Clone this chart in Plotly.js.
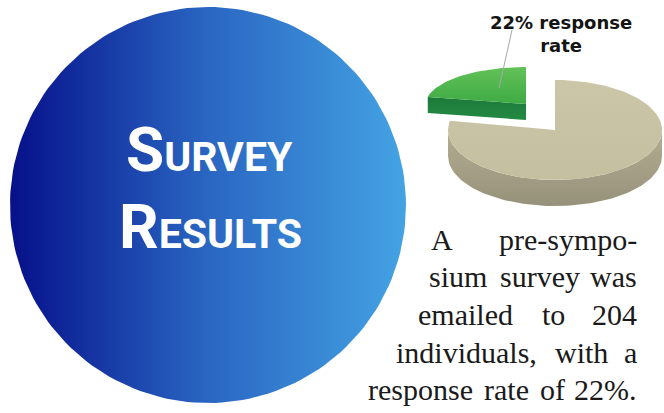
<!DOCTYPE html>
<html>
<head>
<meta charset="utf-8">
<script src="https://cdn.plot.ly/plotly-3.0.1.min.js"></script>
<style>
  html, body { margin: 0; padding: 0; background: #ffffff; }
  #chart { width: 664px; height: 413px; }
</style>
</head>
<body>
<div id="chart"></div>
<script>
// Survey figures
const sliceLabels = ['Responded', 'No response'];
const sliceValues = [22, 78];
const surveyed = 204;
const responseRate = sliceValues[0];

// Heading, written as small caps: first letter large, rest small
const headingWords = ['Survey', 'Results'];

// Body paragraph, one array of words per justified line
const bodyLines = [
  ['A', 'pre-sympo-'],
  ['sium', 'survey', 'was'],
  ['emailed', 'to', String(surveyed)],
  ['individuals,', 'with', 'a'],
  ['response', 'rate', 'of', responseRate + '%.']
];

// ---- page geometry (pixels, y grows downward) ----
const W = 664, H = 413;
const disc = { cx: 208, cy: 205, r: 198 };
const pieBody = { cx: 555, cy: 130, rx: 107, ry: 50, depth: 26 };
const pieWedge = { cx: 526, cy: 104, rx: 100, ry: 37, depth: 16 };
const bodyLeft = [430, 428, 417, 395, 367];
const bodyRight = 638;
const bodyBaseline = [250, 287, 325, 363, 400];
const bodyFont = 'Liberation Serif';
const bodySize = 30;

function rim(g, deg, drop) {
  const a = deg * Math.PI / 180;
  return [g.cx + g.rx * Math.cos(a), g.cy - g.ry * Math.sin(a) + (drop || 0)];
}
function arcPts(g, a0, a1, drop) {
  const n = Math.max(2, Math.ceil(Math.abs(a1 - a0) / 2));
  const pts = [];
  for (let i = 0; i <= n; i++) pts.push(rim(g, a0 + (a1 - a0) * i / n, drop));
  return pts;
}
let uidCount = 0;
function polyTrace(pts, colorscale, dir) {
  uidCount += 1;
  const xs = pts.map(p => p[0]), ys = pts.map(p => p[1]);
  const vals = dir === 'horizontal' ? xs : ys;
  return {
    type: 'scatter', mode: 'lines', hoverinfo: 'skip', uid: 'part' + uidCount,
    x: xs, y: ys,
    fill: 'toself',
    line: { width: 0, color: 'rgba(0,0,0,0)' },
    fillgradient: {
      type: dir || 'vertical', colorscale: colorscale,
      start: Math.min.apply(null, vals), stop: Math.max.apply(null, vals)
    }
  };
}

const traces = [];

// Blue disc
const discPts = [];
for (let i = 0; i <= 360; i += 2) {
  const a = i * Math.PI / 180;
  discPts.push([disc.cx + disc.r * Math.cos(a), disc.cy + disc.r * Math.sin(a)]);
}
traces.push(polyTrace(discPts, [[0, '#06108a'], [0.5, '#2a66c2'], [1, '#44a3e3']], 'horizontal'));

// Pie: wedge angles from the slice values, starting at 12 o'clock, counter-clockwise
const total = sliceValues.reduce((s, v) => s + v, 0);
const wedgeStart = 90;
const wedgeEnd = 90 + 360 * sliceValues[0] / total;
const bodyEnd = wedgeStart + 360;

// Responded wedge (pulled out, behind): cut face then top face
const wStartRim = rim(pieWedge, wedgeEnd);
const cutFace = [
  [pieWedge.cx, pieWedge.cy], wStartRim,
  [wStartRim[0], wStartRim[1] + pieWedge.depth],
  [pieWedge.cx, pieWedge.cy + pieWedge.depth]
];
traces.push(polyTrace(cutFace, [[0, '#1c7a3a'], [1, '#238a43']]));
const wedgeTop = [[pieWedge.cx, pieWedge.cy]].concat(arcPts(pieWedge, wedgeStart, wedgeEnd));
wedgeTop.push([pieWedge.cx, pieWedge.cy]);
traces.push(polyTrace(wedgeTop, [[0, '#62c258'], [1, '#3faa44']]));

// Remaining body: front side wall then top face
const sideA = Math.max(180, wedgeEnd), sideB = 360;
const side = arcPts(pieBody, sideA, sideB).concat(arcPts(pieBody, sideB, sideA, pieBody.depth));
traces.push(polyTrace(side, [[0, '#b3ae91'], [1, '#96917a']]));
const bodyTop = [[pieBody.cx, pieBody.cy]].concat(arcPts(pieBody, wedgeEnd, bodyEnd));
bodyTop.push([pieBody.cx, pieBody.cy]);
traces.push(polyTrace(bodyTop, [[0, '#cbc6a8'], [1, '#c4bf9f']]));

// ---- text ----
const annotations = [];
const headFont = 'Roboto, sans-serif';
const headBig = 62, headSmall = 41;
const headCenters = [[209, 171], [210, 248]];
headingWords.forEach((w, i) => {
  annotations.push({
    xref: 'x', yref: 'y', x: headCenters[i][0], y: headCenters[i][1] - 0.35 * headBig,
    xanchor: 'center', yanchor: 'middle', showarrow: false,
    text: w[0].toUpperCase() + '<span style="font-size:' + headSmall + 'px">' + w.slice(1).toUpperCase() + '</span>',
    font: { family: headFont, size: headBig, color: '#ffffff', weight: 'bold' }
  });
});

// Pie label
annotations.push({
  xref: 'x', yref: 'y', x: 561, y: 10, xanchor: 'center', yanchor: 'top', showarrow: false,
  text: responseRate + '% response<br>rate',
  font: { family: 'DejaVu Sans', size: 18, color: '#141414', weight: 'bold' }
});

// Justified paragraph
const ctx = document.createElement('canvas').getContext('2d');
ctx.font = bodySize + 'px "' + bodyFont + '"';
bodyLines.forEach((words, li) => {
  const widths = words.map(w => ctx.measureText(w).width);
  const span = bodyRight - bodyLeft[li];
  const gap = (span - widths.reduce((s, v) => s + v, 0)) / (words.length - 1);
  let x = bodyLeft[li];
  words.forEach((w, wi) => {
    const last = wi === words.length - 1;
    annotations.push({
      xref: 'x', yref: 'y', showarrow: false,
      x: last ? bodyRight : x, xanchor: last ? 'right' : 'left',
      y: bodyBaseline[li] - 0.3375 * bodySize, yanchor: 'middle',
      text: w, borderpad: 0,
      font: { family: bodyFont, size: bodySize, color: '#1a1a1a' }
    });
    x += widths[wi] + gap;
  });
});

const layout = {
  width: W, height: H,
  margin: { l: 0, r: 0, t: 0, b: 0 },
  paper_bgcolor: '#ffffff', plot_bgcolor: '#ffffff',
  showlegend: false,
  xaxis: { range: [0, W], visible: false, fixedrange: true },
  yaxis: { range: [H, 0], visible: false, fixedrange: true },
  shapes: [{
    type: 'line', xref: 'x', yref: 'y', x0: 512, y0: 30, x1: 499, y1: 88,
    line: { color: '#a8a8a8', width: 1 }
  }],
  annotations: annotations
};

Plotly.newPlot('chart', traces, layout, { staticPlot: true, displayModeBar: false });
</script>
</body>
</html>
